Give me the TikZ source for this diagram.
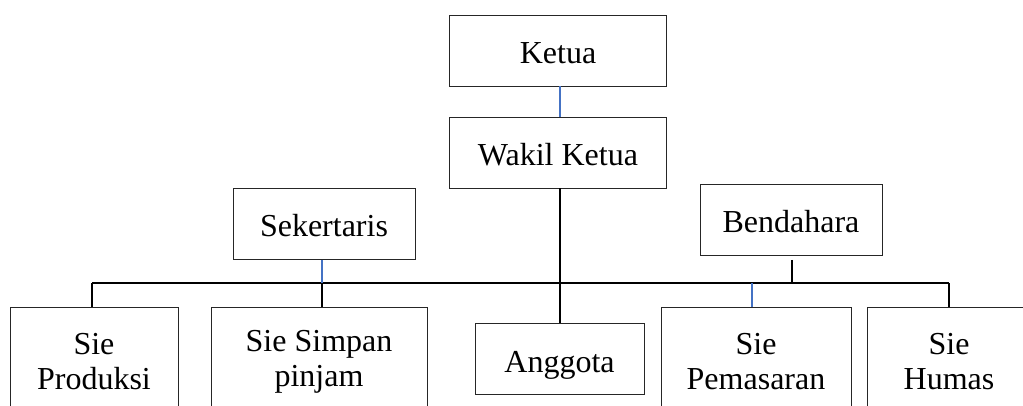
\documentclass[tikz,border=0pt]{standalone}
\usepackage{fontspec}
\setmainfont{Liberation Serif}
\definecolor{conblue}{RGB}{68,114,196}
\begin{document}
\begin{tikzpicture}[x=1pt,y=-1pt,
  box/.style={draw=black!85,line width=0.9pt,minimum width=#1,align=center,inner sep=0pt,
    font=\fontsize{32}{35}\selectfont},
  boxh/.style={minimum height=71pt,text height=26pt,text depth=0pt},
  boxt/.style={minimum height=110pt},
  con/.style={line width=1.6pt,black},
  bcon/.style={line width=1.3pt,conblue}]
\useasboundingbox (0,0) rectangle (1023,406);
\clip (0,0) rectangle (1023,406);
\node[box=217pt,boxh] (ket) at (558,50.5) {Ketua};
\node[box=217pt,boxh] (wak) at (558,152.5) {Wakil Ketua};
\node[box=182pt,boxh] (sek) at (324,224) {Sekertaris};
\node[box=182pt,boxh] (ben) at (791,220) {Bendahara};
\node[box=168pt,boxt] (pro) at (94,362) {Sie\\Produksi};
\node[box=216pt,boxt] (sim) at (319,362) {Sie Simpan\\pinjam};
\node[box=169pt,boxh] (ang) at (559.5,359) {Anggota};
\node[box=190pt,boxt] (pem) at (756,362) {Sie\\Pemasaran};
\node[box=164pt,boxt] (hum) at (949,362) {Sie\\Humas};
\coordinate (busL) at (92,283);
\coordinate (busR) at (949,283);
\coordinate (sekb) at (322,283);
\coordinate (benb) at (792,283);
\coordinate (pemb) at (752,283);
\draw[bcon] (ket.south -| 560,0) -- (wak.north -| 560,0);
\draw[con] (wak.south -| 560,0) -- (ang.north -| 560,0);
\draw[con] (busL) -- (busR);
\draw[bcon] (sek.south -| sekb) -- (sekb);
\draw[con] (sekb) -- (sim.north -| sekb);
\draw[con] (benb |- 0,260) -- (benb);
\draw[bcon] (pemb) -- (pem.north -| pemb);
\draw[con] (busL) -- (pro.north -| busL);
\draw[con] (busR) -- (hum.north -| busR);
\end{tikzpicture}
\end{document}
